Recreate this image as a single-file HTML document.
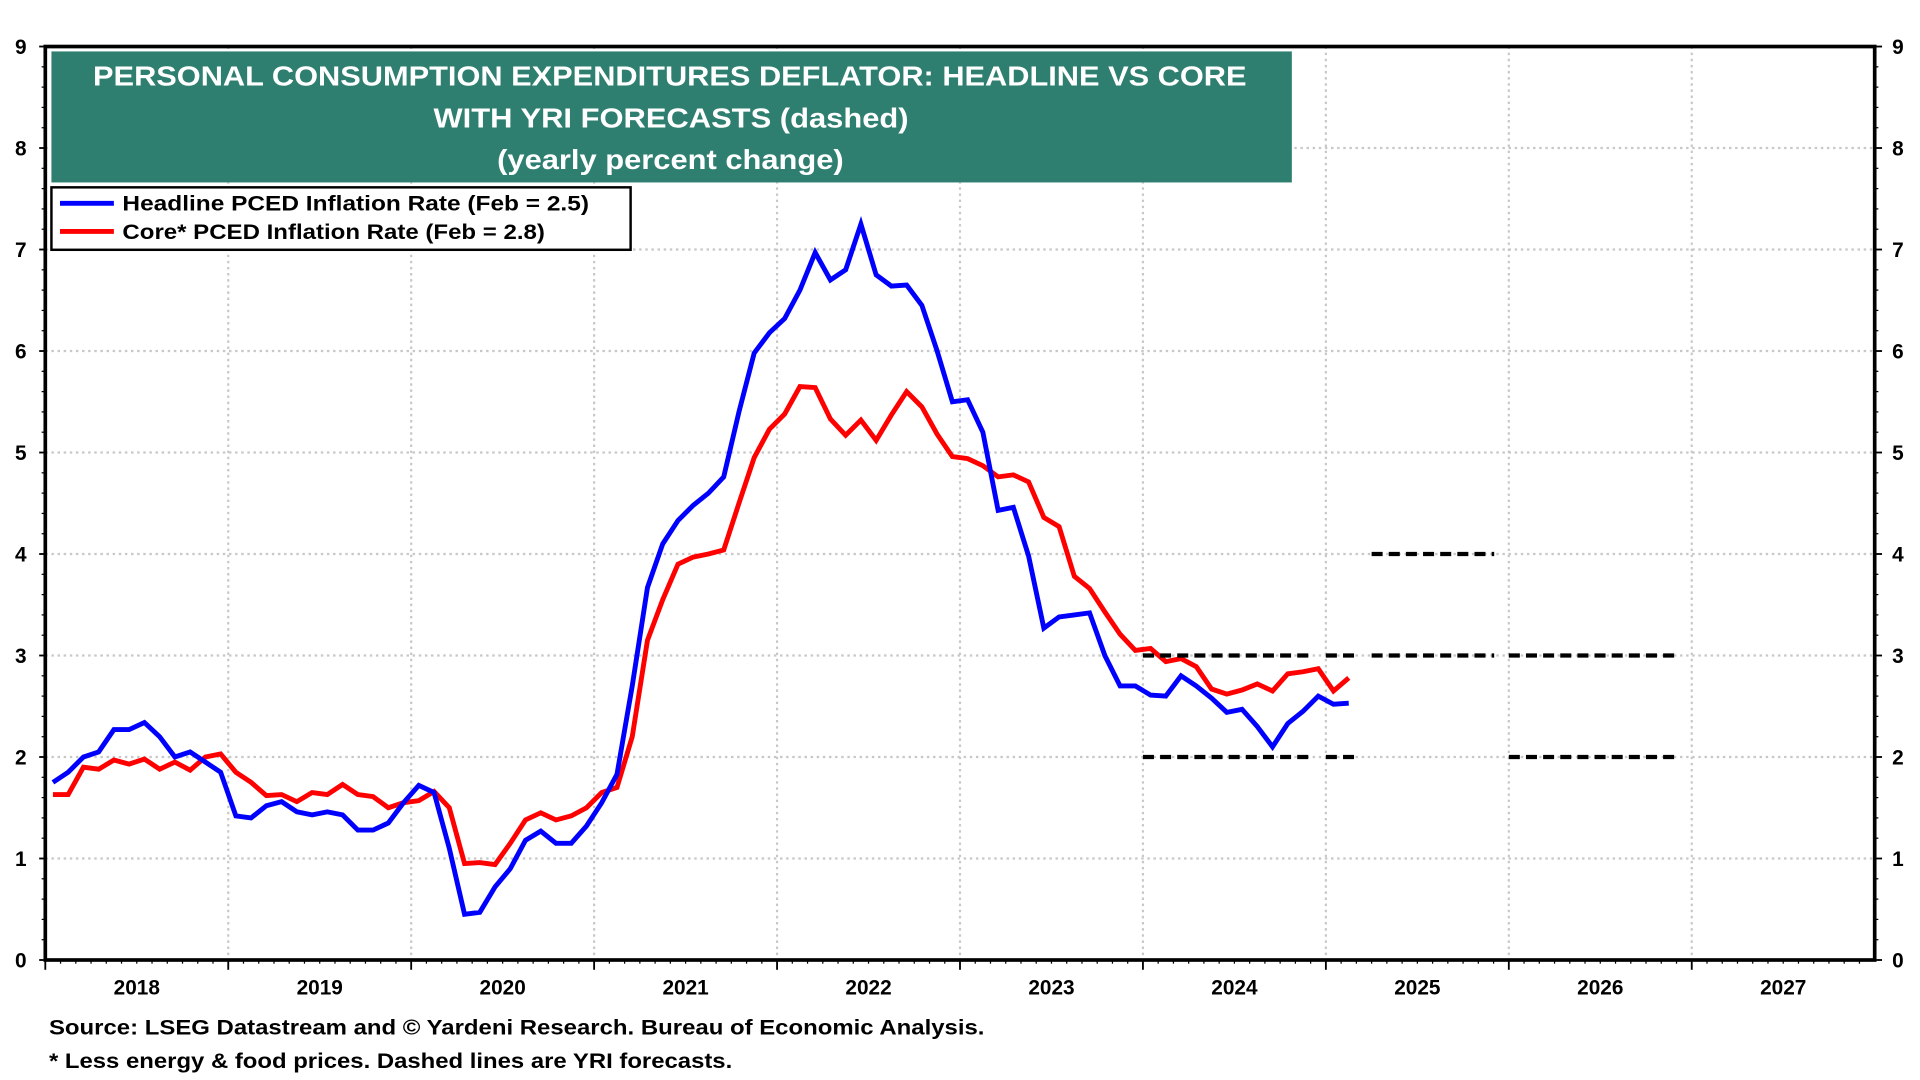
<!DOCTYPE html>
<html><head><meta charset="utf-8"><style>
html,body{margin:0;padding:0;background:#fff;width:1920px;height:1080px;overflow:hidden}
svg{display:block}
text{font-family:"Liberation Sans",Arial,sans-serif;font-weight:bold}
</style></head><body>
<svg id="chart" width="1920" height="1080" viewBox="0 0 1568 882" preserveAspectRatio="none" xmlns="http://www.w3.org/2000/svg">
<g id="grid"></g>
<g id="axes"></g>
<g id="series"></g>
<rect x="42" y="42" width="1013" height="107" fill="#2E7F70"/>
<text x="76" y="70" fill="#fff" font-size="23" textLength="942" lengthAdjust="spacingAndGlyphs">PERSONAL CONSUMPTION EXPENDITURES DEFLATOR: HEADLINE VS CORE</text>
<text x="354" y="104" fill="#fff" font-size="23" textLength="388" lengthAdjust="spacingAndGlyphs">WITH YRI FORECASTS (dashed)</text>
<text x="406" y="138" fill="#fff" font-size="23" textLength="283" lengthAdjust="spacingAndGlyphs">(yearly percent change)</text>
<g>
<rect x="42" y="153" width="473" height="51" fill="#fff" stroke="#000" stroke-width="2"/>
<line x1="49" y1="166" x2="93" y2="166" stroke="#0000ff" stroke-width="4"/>
<text x="100" y="172" font-size="17" textLength="381" lengthAdjust="spacingAndGlyphs">Headline PCED Inflation Rate  (Feb = 2.5)</text>
<line x1="49" y1="189" x2="93" y2="189" stroke="#ff0000" stroke-width="4"/>
<text x="100" y="195" font-size="17" textLength="345" lengthAdjust="spacingAndGlyphs">Core* PCED Inflation Rate (Feb = 2.8)</text>
</g>
<text x="40" y="845" font-size="17" textLength="764" lengthAdjust="spacingAndGlyphs">Source: LSEG Datastream and © Yardeni Research. Bureau of Economic Analysis.</text>
<text x="40" y="872" font-size="17" textLength="558" lengthAdjust="spacingAndGlyphs">* Less energy &amp; food prices. Dashed lines are YRI forecasts.</text>
</svg>
<script>
const years=["2018","2019","2020","2021","2022","2023","2024","2025","2026","2027"];
const yTicks=[0,1,2,3,4,5,6,7,8,9];
const headline=[1.75,1.85,2.0,2.05,2.27,2.27,2.34,2.2,2.0,2.05,1.95,1.85,
1.42,1.4,1.52,1.56,1.46,1.43,1.46,1.43,1.28,1.28,1.35,1.55,
1.72,1.65,1.1,0.45,0.47,0.72,0.9,1.18,1.27,1.15,1.15,1.32,
1.55,1.83,2.7,3.67,4.1,4.33,4.48,4.6,4.76,5.4,5.98,6.18,
6.32,6.6,6.97,6.7,6.8,7.25,6.75,6.64,6.65,6.45,6.0,5.5,
5.52,5.2,4.43,4.46,3.98,3.27,3.38,3.4,3.42,3.0,2.7,2.7,
2.61,2.6,2.8,2.7,2.58,2.44,2.47,2.3,2.1,2.33,2.45,2.6,
2.52,2.53];
const core=[1.63,1.63,1.9,1.88,1.97,1.93,1.98,1.88,1.95,1.87,2.0,2.03,
1.85,1.75,1.62,1.63,1.56,1.65,1.63,1.73,1.63,1.61,1.5,1.55,
1.57,1.66,1.5,0.95,0.96,0.94,1.15,1.38,1.45,1.38,1.42,1.5,
1.65,1.7,2.2,3.15,3.55,3.9,3.97,4.0,4.04,4.5,4.95,5.23,
5.38,5.65,5.64,5.33,5.17,5.32,5.12,5.37,5.6,5.45,5.18,4.96,
4.94,4.87,4.76,4.78,4.71,4.36,4.27,3.78,3.66,3.43,3.21,3.05,
3.07,2.94,2.97,2.89,2.67,2.62,2.66,2.72,2.65,2.82,2.84,2.87,
2.65,2.78];
const fcValues=[4,3,3,3,3,2,2,2];
const fcStart=[2025.25,2024.0,2025.0,2025.25,2026.0,2024.0,2025.0,2026.0];
const fcEnd=[2025.92,2024.93,2025.18,2025.92,2026.92,2024.93,2025.18,2026.92];

const NS="http://www.w3.org/2000/svg";
const L=37,R=1531,T=38,B=784,YW=149.4;
const xY=t=>L+(t-2018)*YW;
const xM=i=>L+(i+0.5)/12*YW;
const y=v=>B-(B-T)*v/9;
function mk(tag,attrs,parent){const e=document.createElementNS(NS,tag);for(const k in attrs)e.setAttribute(k,attrs[k]);parent.appendChild(e);return e;}
const grid=document.getElementById('grid'),axes=document.getElementById('axes'),series=document.getElementById('series');
yTicks.forEach(v=>{
 if(v>0&&v<9){const g=mk('line',{x1:L,x2:R,y1:y(v),y2:y(v),stroke:'#c8c8c8','stroke-width':1.8,'stroke-dasharray':'2 3'},grid);
 
 }
 const t1=mk('text',{x:17,y:y(v)+6,'font-size':17,'text-anchor':'middle'},axes);t1.textContent=v;
 
 
 const t2=mk('text',{x:1550,y:y(v)+6,'font-size':17,'text-anchor':'middle'},axes);t2.textContent=v;
 
 
 mk('line',{x1:L-5,x2:L,y1:y(v),y2:y(v),stroke:'#000','stroke-width':1.5},axes);
 mk('line',{x1:R,x2:R+6,y1:y(v),y2:y(v),stroke:'#000','stroke-width':1.5},axes);
 if(v<9)for(let k=1;k<5;k++){const yy=y(v+k*0.2);mk('line',{x1:L-3,x2:L,y1:yy,y2:yy,stroke:'#000'},axes);mk('line',{x1:R,x2:R+3,y1:yy,y2:yy,stroke:'#000'},axes);}
});
years.forEach((yr,i)=>{
 const x0=xY(2018+i);
 if(i>0){const g=mk('line',{x1:x0,x2:x0,y1:T,y2:B,stroke:'#c8c8c8','stroke-width':1.8,'stroke-dasharray':'2 3'},grid);
 
 }
 mk('line',{x1:x0,x2:x0,y1:B,y2:B+8,stroke:'#000','stroke-width':1.5},axes);
 for(let m=1;m<12;m++)mk('line',{x1:x0+m*YW/12,x2:x0+m*YW/12,y1:B,y2:B+3,stroke:'#000'},axes);
 const t=mk('text',{x:x0+YW/2,y:812,'font-size':17,'text-anchor':'middle'},axes);t.textContent=yr;
 
 
});
const frame=mk('rect',{x:L,y:T,width:R-L,height:B-T,fill:'none',stroke:'#000','stroke-width':3},axes);


function line(arr,color,name){
 const p=mk('polyline',{points:arr.map((v,i)=>xM(i)+','+y(v)).join(' '),fill:'none',stroke:color,'stroke-width':4,'stroke-linejoin':'miter'},series);
 
 
}
line(core,'#ff0000','core-pced-line');
line(headline,'#0000ff','headline-pced-line');
fcValues.forEach((v,i)=>{
 const f=mk('line',{x1:xY(fcStart[i]),x2:xY(fcEnd[i]),y1:y(v),y2:y(v),stroke:'#000','stroke-width':3.5,'stroke-dasharray':'9 5'},series);
 
 
});
</script>
</body></html>
